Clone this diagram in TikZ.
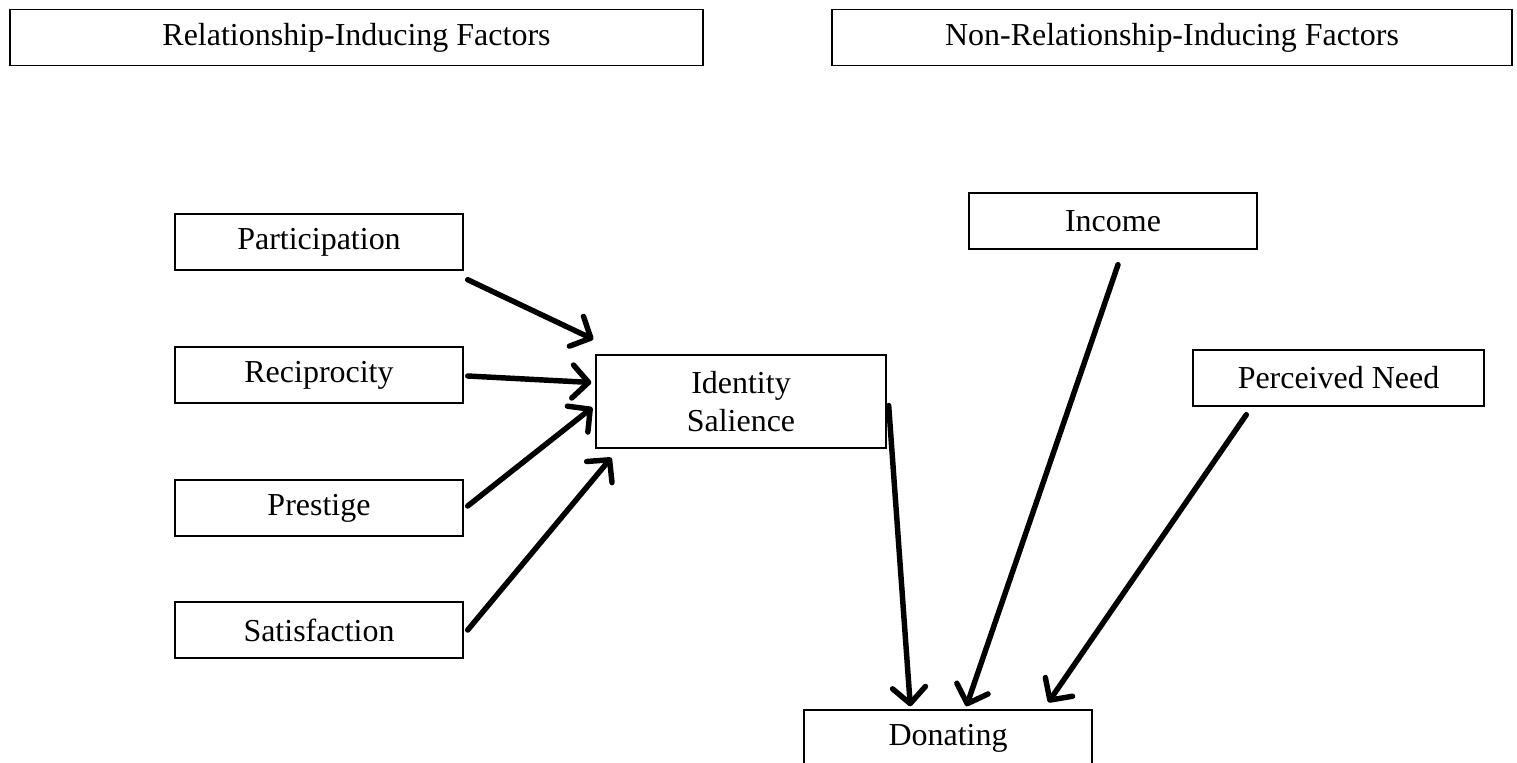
\documentclass[tikz,border=0pt]{standalone}
\usepackage{fontspec}
\setmainfont{Liberation Serif}
\usetikzlibrary{arrows.meta}

\begin{document}
\begin{tikzpicture}[x=0.02cm, y=-0.02cm,
	box/.style={draw, line width=0.8pt, minimum width=5.76cm, minimum height=1.12cm,
		inner sep=0pt, align=center, font=\fontsize{18.2}{21.5}\selectfont},
	arr/.style={line width=3.1pt, line cap=round,
		-{Straight Barb[length=3.2mm, width=6.6mm, line width=3.1pt, round]}}]
			%%%%% START %%%%%
			
			\useasboundingbox (0, 0) rectangle (1517, 763);
			
			\node[box, minimum width=13.86cm] (relhead) at (356.5, 37.5) {Relationship-Inducing Factors};
			\node[box, minimum width=13.6cm] (nonhead) at (1172, 37.5) {Non-Relationship-Inducing Factors};
			
			\node[box] (particip) at (319, 242) {Participation};
			\node[box] (recip) at (319, 375) {Reciprocity};
			\node[box] (prestige) at (319, 508) {Prestige};
			\node[box] (satisf) at (319, 630) {Satisfaction};
			
			\node[box, minimum width=5.8cm, minimum height=1.86cm] (identity) at (741, 401.5) {Identity\\Salience};
			
			\node[box] (income) at (1113, 221) {Income};
			\node[box, minimum width=5.82cm] (need) at (1338.5, 378) {Perceived Need};
			\node[box] (donating) at (948, 738) {Donating};
			
			\draw[arr] ([shift={(4, 9)}]particip.south east) -- ([shift={(-2, -15)}]identity.north west);
			\draw[arr] ([shift={(4, 1)}]recip.east) -- ([shift={(-4, -19)}]identity.west);
			\draw[arr] ([shift={(4, -2)}]prestige.east) -- ([shift={(-3, 6)}]identity.west);
			\draw[arr] ([shift={(4, 0)}]satisf.east) -- ([shift={(16, 9)}]identity.south west);
			
			\draw[arr] ([shift={(2, 4)}]identity.east) -- ([shift={(107, -3)}]donating.north west);
			\draw[arr] ([shift={(5, 15)}]income.south) -- ([shift={(163, -3)}]donating.north west);
			\draw[arr] ([shift={(54, 8)}]need.south west) -- ([shift={(245, -7)}]donating.north west);
			
			%%%%% END %%%%%
\end{tikzpicture}
\end{document}
